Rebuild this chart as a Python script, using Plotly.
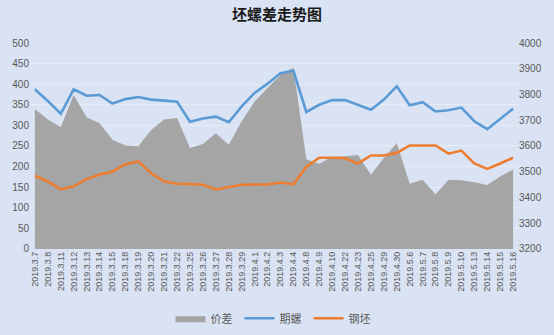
import plotly.graph_objects as go

dates = ["2019.3.7", "2019.3.8", "2019.3.11", "2019.3.12", "2019.3.13", "2019.3.14",
         "2019.3.15", "2019.3.18", "2019.3.19", "2019.3.20", "2019.3.21", "2019.3.22",
         "2019.3.25", "2019.3.26", "2019.3.27", "2019.3.28", "2019.3.29", "2019.4.1",
         "2019.4.2", "2019.4.3", "2019.4.4", "2019.4.8", "2019.4.9", "2019.4.10",
         "2019.4.22", "2019.4.23", "2019.4.25", "2019.4.29", "2019.4.30", "2019.5.6",
         "2019.5.7", "2019.5.8", "2019.5.9", "2019.5.10", "2019.5.13", "2019.5.14",
         "2019.5.15", "2019.5.16"]

# 期螺 (rebar futures) price, right axis
qiluo = [3820, 3775, 3725, 3820, 3795, 3798, 3765, 3782, 3790, 3780, 3776, 3772,
         3694, 3707, 3714, 3692, 3754, 3806, 3842, 3883, 3892, 3732, 3760, 3778,
         3778, 3761, 3741, 3780, 3832, 3758, 3770, 3734, 3739, 3749, 3696, 3665,
         3705, 3745]

# 钢坯 (billet) price, right axis
gangpi = [3484, 3462, 3431, 3443, 3471, 3489, 3500, 3529, 3540, 3494, 3462, 3453,
          3452, 3449, 3431, 3441, 3449, 3450, 3450, 3458, 3451, 3519, 3554, 3554,
          3552, 3532, 3563, 3563, 3573, 3602, 3602, 3602, 3570, 3582, 3532, 3511,
          3532, 3554]

# 价差 (spread), left axis
jiacha = [340, 314, 296, 374, 320, 305, 265, 251, 249, 289, 314, 318,
          245, 255, 281, 253, 310, 358, 391, 423, 440, 218, 207, 224,
          225, 228, 180, 221, 257, 158, 168, 132, 168, 167, 162, 155,
          176, 193]

left_ticks = list(range(0, 501, 50))
right_ticks = list(range(3200, 4001, 100))

BG = "#DAE3F3"
GRID = "#E7ECF6"
TICK = "#595959"

fig = go.Figure()

fig.add_trace(go.Scatter(
    x=dates, y=jiacha, name="价差", mode="lines",
    line=dict(width=0, color="#A5A5A5"),
    fill="tozeroy", fillcolor="#A5A5A5", yaxis="y",
))
fig.add_trace(go.Scatter(
    x=dates, y=qiluo, name="期螺", mode="lines",
    line=dict(width=2.6, color="#5B9BD5"), yaxis="y2",
))
fig.add_trace(go.Scatter(
    x=dates, y=gangpi, name="钢坯", mode="lines",
    line=dict(width=2.6, color="#ED7D31"), yaxis="y2",
))

fig.update_layout(
    width=554, height=335,
    margin=dict(l=27, r=32, t=43, b=86),
    paper_bgcolor=BG, plot_bgcolor=BG,
    font=dict(family="Liberation Sans, Arial, sans-serif", color=TICK, size=10),
    title=dict(
        text="坯螺差走势图", x=0.5, xanchor="center", y=0.955, yanchor="middle",
        font=dict(family="Noto Sans CJK SC", size=15, color="#1a1a1a", weight="bold"),
    ),
    xaxis=dict(
        type="category", range=[-0.38, len(dates) - 1 + 0.38],
        tickangle=-90, tickfont=dict(size=9, color=TICK),
        showgrid=False, showline=False, ticks="", zeroline=False,
    ),
    yaxis=dict(
        range=[0, 500], tickvals=left_ticks,
        showgrid=True, gridcolor=GRID, gridwidth=1, zeroline=False,
        tickfont=dict(size=10, color=TICK), ticks="", ticklen=0,
    ),
    yaxis2=dict(
        range=[3200, 4000], tickvals=right_ticks, overlaying="y", side="right",
        showgrid=False, zeroline=False,
        tickfont=dict(size=10, color=TICK), ticks="",
    ),
    legend=dict(
        orientation="h", x=0.5, xanchor="center",
        yref="container", y=0.05, yanchor="middle",
        font=dict(family="Noto Sans CJK SC", size=11, color=TICK),
        bgcolor="rgba(0,0,0,0)", itemwidth=30,
        entrywidth=24, entrywidthmode="pixels",
    ),
    showlegend=True,
)

fig.write_html("out.html")
